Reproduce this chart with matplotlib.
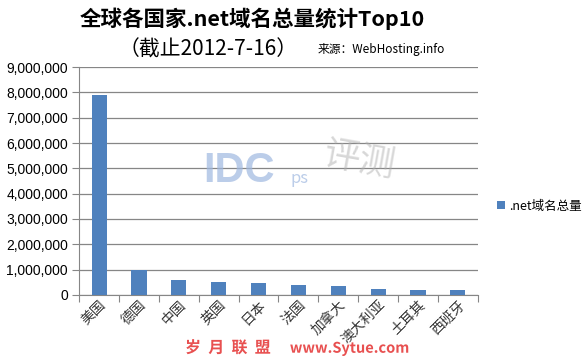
import matplotlib.pyplot as plt
from matplotlib.ticker import FuncFormatter, FixedLocator
import matplotlib.patheffects as pe

plt.rcParams['font.family'] = ['Noto Sans CJK SC', 'DejaVu Sans']

countries = ["美国", "德国", "中国", "英国", "日本",
             "法国", "加拿大", "澳大利亚", "土耳其", "西班牙"]
net_domains = [7900000, 990000, 590000, 490000, 450000,
               410000, 370000, 250000, 210000, 210000]
y_ticks = list(range(0, 9000001, 1000000))

fig = plt.figure(figsize=(5.82, 3.57), dpi=100)
ax = fig.add_axes([0.136, 0.174, 0.685, 0.638])

x = list(range(len(countries)))
ax.bar(x, net_domains, width=0.38, color='#4F81BD', zorder=3, label='.net域名总量')

ax.set_xlim(-0.5, len(countries) - 0.5)
ax.set_ylim(0, 9000000)
ax.set_yticks(y_ticks)
ax.yaxis.set_major_formatter(FuncFormatter(lambda v, p: f"{int(v):,}"))
ax.grid(axis='y', color='#868686', linewidth=0.9, zorder=0)

for s in ['top', 'right']:
    ax.spines[s].set_visible(False)
ax.spines['left'].set_color('#868686')
ax.spines['bottom'].set_color('#868686')

ax.tick_params(axis='y', length=5, color='#868686', labelsize=10, pad=3)
ax.set_yticklabels([f"{v:,}" for v in y_ticks], family=['Liberation Sans', 'DejaVu Sans'])

# category boundary ticks like Excel
ax.xaxis.set_major_locator(FixedLocator([i - 0.5 for i in range(len(countries) + 1)]))
ax.xaxis.set_minor_locator(FixedLocator(x))
ax.tick_params(axis='x', which='major', length=5, color='#868686', labelbottom=False)
ax.tick_params(axis='x', which='minor', length=0, labelsize=10, pad=2)
ax.set_xticks(x, minor=True)
ax.set_xticklabels(countries, minor=True, rotation=45, ha='right', va='top',
                   rotation_mode='anchor', color='#333333')

leg = ax.legend(loc='center left', bbox_to_anchor=(1.02, 0.39), frameon=False,
                fontsize=9, handlelength=0.6, handleheight=0.6, handletextpad=0.4)

fig.text(0.433, 0.948, "全球各国家.net域名总量统计Top10", ha='center', va='center',
         fontsize=15.5, fontweight='bold')
fig.text(0.358, 0.86, "（截止2012-7-16）", ha='center', va='center', fontsize=15)
fig.text(0.545, 0.86, "来源：WebHosting.info", ha='left', va='center', fontsize=8.5)

# watermarks
fig.text(0.35, 0.52, "IDC", ha='left', va='center', fontsize=30, fontweight='bold',
         color='#9FB8E0', alpha=0.7, family=['Liberation Sans'])
fig.text(0.5, 0.5, "ps", ha='left', va='center', fontsize=12, color='#9FB8E0', alpha=0.7)
fig.text(0.55, 0.55, "评测", ha='left', va='center', fontsize=26, color='#B0B0B0',
         alpha=0.5, rotation=-10)
fig.text(0.318, 0.026, "岁  月  联  盟", ha='left', va='center', fontsize=11.5,
         color='#E85050', fontweight='bold',
         path_effects=[pe.withStroke(linewidth=2, foreground='white')])
fig.text(0.498, 0.026, "www.Sytue.com", ha='left', va='center', fontsize=10.5,
         color='#E85050', fontweight='bold',
         path_effects=[pe.withStroke(linewidth=2, foreground='white')])

fig.savefig('out.png', dpi=100)
